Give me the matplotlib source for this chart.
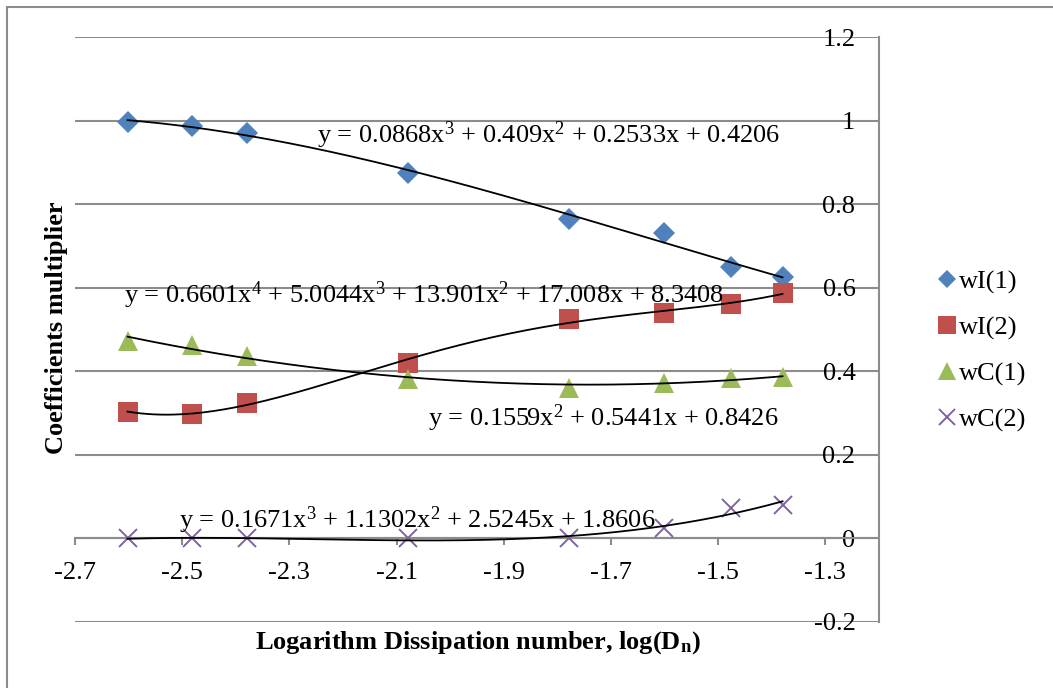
import matplotlib.pyplot as plt
import numpy as np
from matplotlib.patches import Rectangle

plt.rcParams['font.family'] = ['Liberation Serif', 'DejaVu Serif']
plt.rcParams['mathtext.fontset'] = 'custom'
plt.rcParams['mathtext.rm'] = 'Liberation Serif'
plt.rcParams['mathtext.it'] = 'Liberation Serif:italic'
plt.rcParams['mathtext.bf'] = 'Liberation Serif:bold'

# log(Dn) values
log_dn = [-2.602, -2.481, -2.380, -2.079, -1.778, -1.602, -1.477, -1.380]

wI1 = [0.996, 0.988, 0.971, 0.875, 0.765, 0.731, 0.649, 0.625]
wI2 = [0.303, 0.297, 0.325, 0.421, 0.526, 0.540, 0.560, 0.588]
wC1 = [0.472, 0.464, 0.437, 0.382, 0.361, 0.373, 0.384, 0.386]
wC2 = [0.0, 0.0, 0.0, 0.0, 0.0, 0.024, 0.074, 0.081]

series_names = ["wI(1)", "wI(2)", "wC(1)", "wC(2)"]
fit_degrees = [3, 4, 2, 3]
equations = [
    "y = 0.0868x$^3$ + 0.409x$^2$ + 0.2533x + 0.4206",
    "y = 0.6601x$^4$ + 5.0044x$^3$ + 13.901x$^2$ + 17.008x + 8.3408",
    "y = 0.1559x$^2$ + 0.5441x + 0.8426",
    "y = 0.1671x$^3$ + 1.1302x$^2$ + 2.5245x + 1.8606",
]
eq_pos = [(-2.2485, 0.947), (-2.608, 0.564), (-2.042, 0.270), (-2.506, 0.0256)]

colors = ["#4F81BD", "#C0504D", "#9BBB59", "#8064A2"]
markers = ["D", "s", "^", "x"]
msizes = [11, 14.5, 14.5, 13.5]

fig = plt.figure(figsize=(10.53, 6.88), dpi=100)
ax = fig.add_axes([75 / 1053, 1 - 622 / 688, 804 / 1053, 585 / 688])

grid_c = "#8C8C8C"
fs = 19
x = np.array(log_dn)
for vals, name, deg, c, m, ms in zip([wI1, wI2, wC1, wC2], series_names,
                                     fit_degrees, colors, markers, msizes):
    if m == "x":
        ax.plot(x, vals, linestyle="none", marker=m, color=c, markersize=ms,
                markeredgewidth=1.4, label=name, zorder=3)
    else:
        ax.plot(x, vals, linestyle="none", marker=m, color=c, markersize=ms,
                markeredgewidth=0, label=name, zorder=3)
    # polynomial trendline, like Excel
    coef = np.polyfit(x, vals, deg)
    xs = np.linspace(x.min(), x.max(), 200)
    ax.plot(xs, np.polyval(coef, xs), color="black", lw=1.3, zorder=4)

for eq, (ex, ey) in zip(equations, eq_pos):
    ax.text(ex, ey, eq, fontsize=fs, ha="left", va="baseline", zorder=5)

ax.set_xlim(-2.7, -1.2)
ax.set_ylim(-0.2, 1.2)
ax.set_xticks(np.arange(-2.7, -1.25, 0.2))
ax.set_xticklabels(["-2.7", "-2.5", "-2.3", "-2.1", "-1.9", "-1.7", "-1.5", "-1.3"])
ax.set_yticks(np.arange(-0.2, 1.21, 0.2))
ax.set_yticklabels(["-0.2", "0", "0.2", "0.4", "0.6", "0.8", "1", "1.2"])

ax.yaxis.grid(True, color=grid_c, lw=1.5)
ax.set_axisbelow(True)
ax.spines["top"].set_visible(False)
ax.spines["left"].set_visible(False)
ax.spines["bottom"].set_position(("data", 0))
for s in ["bottom", "right"]:
    ax.spines[s].set_color(grid_c)
    ax.spines[s].set_linewidth(1.5)

ax.yaxis.tick_right()
ax.tick_params(axis="y", length=0, pad=-17, labelsize=fs)
for lab in ax.get_yticklabels():
    lab.set_horizontalalignment("right")
ax.tick_params(axis="x", direction="out", length=5, width=1.5, color=grid_c,
               pad=12, labelsize=fs)

fig.text(478 / 1053, 1 - 643 / 688,
         "Logarithm Dissipation number, log(D$_{\\mathbf{n}}$)",
         fontsize=fs, fontweight="bold", ha="center", va="center")
fig.text(57 / 1053, 1 - 328 / 688, "Coefficients multiplier", fontsize=fs,
         fontweight="bold", rotation=90, ha="center", va="center")

fig.legend(loc="upper left", bbox_to_anchor=(939 / 1053, 1 - 270 / 688),
           frameon=False, fontsize=fs, handlelength=0.6, handletextpad=0.15,
           labelspacing=0.84, markerscale=0.85, borderpad=0, borderaxespad=0)

fig.patches.append(Rectangle((7 / 1053, -0.1), 1.2, 1 - 7 / 688 + 0.1,
                             transform=fig.transFigure, fill=False,
                             edgecolor="#8C8C8C", lw=1.5))

fig.savefig("out.png", dpi=100)
